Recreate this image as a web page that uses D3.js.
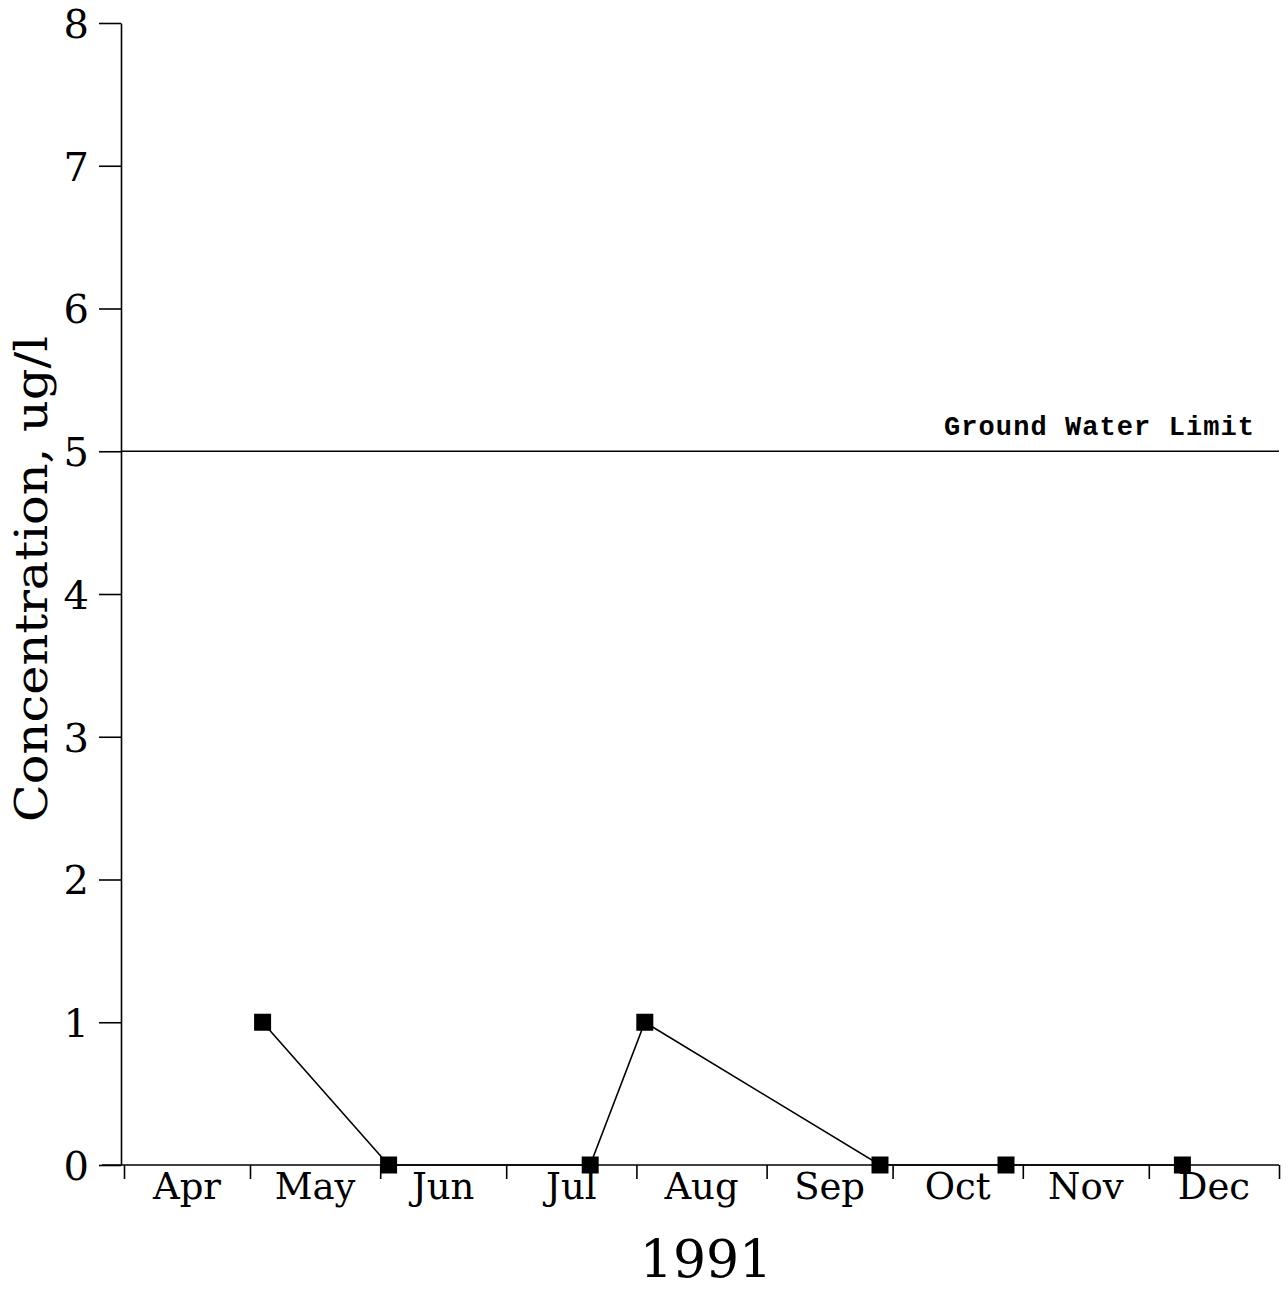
<!DOCTYPE html>
<html>
<head>
<meta charset="utf-8">
<title>Concentration 1991</title>
<style>
  body { margin: 0; background: #fff; }
  .axis text { font-family: "DejaVu Serif", serif; fill: #000; }
  .axis path, .axis line { stroke: #000; stroke-width: 1.6px; }
</style>
</head>
<body>
<svg width="1288" height="1291"></svg>
<script src="https://d3js.org/d3.v7.min.js"></script>
<script>

// sample dates and measured concentrations (ug/l)
var sampleDates = ["1991-05-04", "1991-06-03", "1991-07-21", "1991-08-03", "1991-09-28", "1991-10-28", "1991-12-09"];
var concentrations = [1, 0, 0, 1, 0, 0, 0];

// axis labels
var monthLabels = ["Apr", "May", "Jun", "Jul", "Aug", "Sep", "Oct", "Nov", "Dec"];
var yTicks = [0, 1, 2, 3, 4, 5, 6, 7, 8];
var yearLabel = "1991";
var yLabel = "Concentration, ug/l";

// ground water limit
var limitValue = 5;
var limitLabel = "Ground Water Limit";

var svg = d3.select("svg");
var parse = d3.timeParse("%Y-%m-%d");

var points = sampleDates.map(function(d, i) {
  return { date: parse(d), value: concentrations[i] };
});

var x = d3.scaleTime()
    .domain([new Date(1991, 3, 1), new Date(1992, 0, 1)])
    .range([124, 1279]);

var y = d3.scaleLinear()
    .domain([0, 8])
    .range([1165, 23]);

// month boundaries for the ticks
var monthStarts = d3.timeMonth.range(new Date(1991, 3, 1), new Date(1992, 0, 2));

// y axis
var gy = svg.append("g")
    .attr("class", "axis")
    .attr("transform", "translate(121,0)")
    .call(d3.axisLeft(y)
      .tickValues(yTicks)
      .tickSize(22)
      .tickPadding(10)
      .tickSizeOuter(0)
      .tickFormat(d3.format("d")));
gy.selectAll("text").attr("font-size", 40).attr("dy", "0.36em");

// x axis
var gx = svg.append("g")
    .attr("class", "axis")
    .attr("transform", "translate(0," + y(0) + ")")
    .call(d3.axisBottom(x)
      .tickValues(monthStarts)
      .tickSize(14)
      .tickSizeOuter(0)
      .tickFormat(""));
// extend the axis line to the left of the y axis
gx.select(".domain").attr("d", "M102,0H" + x.range()[1]);

// month names centred in each month
gx.selectAll(".month")
    .data(monthLabels)
  .enter().append("text")
    .attr("class", "month")
    .attr("x", function(d, i) { return (x(monthStarts[i]) + x(monthStarts[i + 1])) / 2; })
    .attr("y", 34)
    .attr("text-anchor", "middle")
    .attr("font-size", 37)
    .text(function(d) { return d; });

// year label
svg.append("text")
    .attr("x", 706)
    .attr("y", 1277)
    .attr("text-anchor", "middle")
    .attr("font-family", "DejaVu Serif, serif")
    .attr("font-size", 52)
    .text(yearLabel);

// y axis title
svg.append("text")
    .attr("transform", "translate(47," + 579 + ") rotate(-90)")
    .attr("text-anchor", "middle")
    .attr("font-family", "DejaVu Serif, serif")
    .attr("font-size", 45)
    .attr("textLength", 486)
    .attr("lengthAdjust", "spacingAndGlyphs")
    .text(yLabel);

// ground water limit line
svg.append("line")
    .attr("x1", 121)
    .attr("x2", 1279)
    .attr("y1", y(limitValue))
    .attr("y2", y(limitValue))
    .attr("stroke", "#000")
    .attr("stroke-width", 1.6);

svg.append("text")
    .attr("x", 1254)
    .attr("y", y(limitValue) - 16)
    .attr("text-anchor", "end")
    .attr("font-family", "Liberation Mono, monospace")
    .attr("font-weight", "bold")
    .attr("font-size", 27)
    .attr("textLength", 310)
    .attr("lengthAdjust", "spacing")
    .text(limitLabel);

// data line
var line = d3.line()
    .x(function(d) { return x(d.date); })
    .y(function(d) { return y(d.value); });

svg.append("path")
    .datum(points)
    .attr("fill", "none")
    .attr("stroke", "#000")
    .attr("stroke-width", 1.6)
    .attr("d", line);

// square markers
svg.selectAll(".pt")
    .data(points)
  .enter().append("rect")
    .attr("class", "pt")
    .attr("x", function(d) { return x(d.date) - 8.5; })
    .attr("y", function(d) { return y(d.value) - 8.5; })
    .attr("width", 17)
    .attr("height", 17)
    .attr("fill", "#000");

</script>
</body>
</html>
